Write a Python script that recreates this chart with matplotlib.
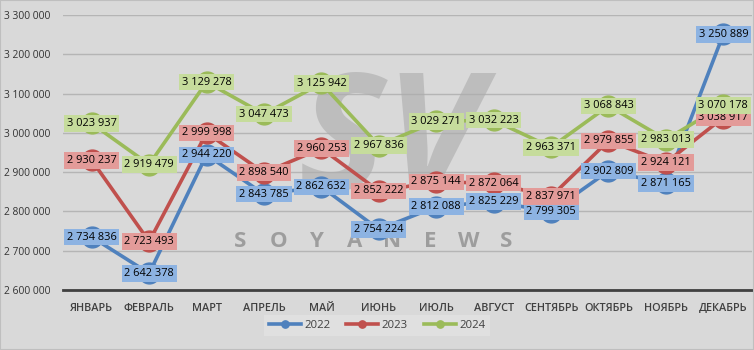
import matplotlib
matplotlib.use("Agg")
import matplotlib.pyplot as plt
from matplotlib.ticker import FuncFormatter

plt.rcParams["font.family"] = ["Open Sans", "DejaVu Sans"]

months = ["ЯНВАРЬ", "ФЕВРАЛЬ", "МАРТ", "АПРЕЛЬ", "МАЙ", "ИЮНЬ",
          "ИЮЛЬ", "АВГУСТ", "СЕНТЯБРЬ", "ОКТЯБРЬ", "НОЯБРЬ", "ДЕКАБРЬ"]
y2022 = [2734836, 2642378, 2944220, 2843785, 2862632, 2754224,
         2812088, 2825229, 2799305, 2902809, 2871165, 3250889]
y2023 = [2930237, 2723493, 2999998, 2898540, 2960253, 2852222,
         2875144, 2872064, 2837971, 2979855, 2924121, 3038917]
y2024 = [3023937, 2919479, 3129278, 3047473, 3125942, 2967836,
         3029271, 3032223, 2963371, 3068843, 2983013, 3070178]

series = [
    ("2022", y2022, "#4f81bd", "#8db3e2"),
    ("2023", y2023, "#c0504d", "#e39b99"),
    ("2024", y2024, "#9bbb59", "#c6dc9c"),
]

bg = "#d9d9d9"
fig = plt.figure(figsize=(7.54, 3.5), dpi=100, facecolor=bg)
ax = fig.add_axes([0.0836, 0.1714, 0.9138, 0.7857], facecolor=bg)

def fmt(v):
    return f"{int(v):,}".replace(",", " ")

x = list(range(len(months)))
for i, (name, vals, col, light) in enumerate(series):
    ax.plot(x, vals, color=col, lw=2.6, marker="o", ms=15, mec=col,
            label=name, zorder=3 + i)
    for xi, v in zip(x, vals):
        ax.text(xi, v, fmt(v), ha="center", va="center", fontsize=7.9,
                color="black", zorder=6 + i,
                bbox=dict(boxstyle="square,pad=0.25", fc=light, ec="none"))

# watermark
for k, ch in enumerate("SOYANEWS"):
    ax.text(0.4505 + (k - 3.5) * 0.0552, 0.175, ch, transform=ax.transAxes,
            ha="center", va="center", fontsize=16, fontweight="bold",
            color="#8f8f8f", alpha=0.8, zorder=1)
ax.text(0.475, 0.52, "SV", transform=ax.transAxes, ha="center",
        va="center", fontsize=118, fontweight="bold", style="italic",
        color="#ababab", alpha=0.6, zorder=1)

ax.set_xlim(-0.5, 11.5)
ax.set_ylim(2600000, 3300000)
ax.set_yticks(range(2600000, 3300001, 100000))
ax.yaxis.set_major_formatter(FuncFormatter(lambda v, p: fmt(v)))
ax.set_xticks(x)
ax.set_xticklabels(months, fontweight="semibold")
ax.tick_params(axis="x", length=0, pad=9, labelsize=7.8, colors="#404040")
ax.tick_params(axis="y", length=0, pad=9, labelsize=7.4, colors="#333333")
ax.grid(axis="y", color="#b5b5b5", lw=1, zorder=0)
ax.set_axisbelow(True)
for s in ["top", "right", "left"]:
    ax.spines[s].set_visible(False)
ax.spines["bottom"].set_color("#404040")
ax.spines["bottom"].set_linewidth(2)

leg = fig.legend(loc="center", bbox_to_anchor=(0.5, 0.071), ncol=3,
                 frameon=True, fontsize=8.2, markerscale=0.35,
                 handlelength=2.8, columnspacing=1.4, borderpad=0.45,
                 handletextpad=0.3, fancybox=False)
leg.get_frame().set_facecolor("#e3e3e3")
leg.get_frame().set_edgecolor("none")
for t in leg.get_texts():
    t.set_color("#404040")

fig.patches.append(plt.Rectangle((0, 0), 1, 1, transform=fig.transFigure,
                                 fill=False, ec="#bfbfbf", lw=1.5))
fig.savefig("out.png", dpi=100, facecolor=bg)
